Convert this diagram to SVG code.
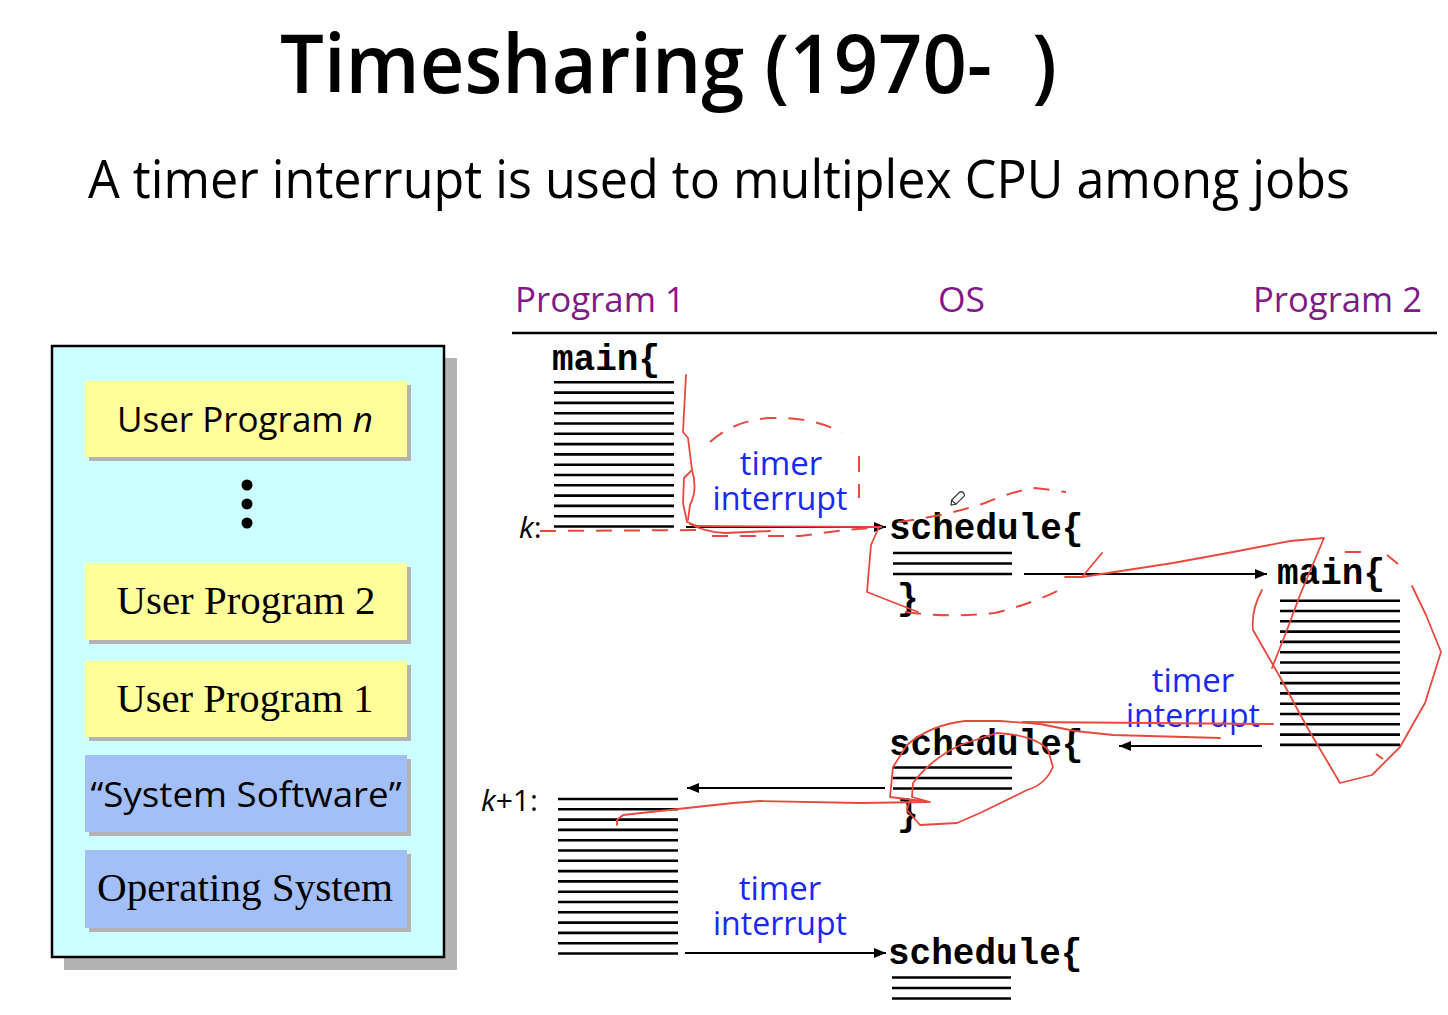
<svg xmlns="http://www.w3.org/2000/svg" width="1448" height="1015" viewBox="0 0 1448 1015">
  <defs>
    <marker id="arrowhead" viewBox="0 0 12 10" refX="12" refY="5" markerWidth="12" markerHeight="10" markerUnits="userSpaceOnUse" orient="auto">
      <path d="M0,0 L12,5 L0,10 z" fill="#000"/>
    </marker>
    <style>
      .title { font-family: "Open Sans", "Noto Sans", sans-serif; fill: #000; }
      .head { font-family: "Open Sans", "Noto Sans", sans-serif; font-size: 35px; fill: #7f1a86; }
      .note { font-family: "Open Sans", "Noto Sans", sans-serif; font-size: 33px; fill: #1a28f2; text-anchor: middle; }
      .code { font-family: "Liberation Mono", "DejaVu Sans Mono", monospace; font-size: 36px; font-weight: bold; fill: #000; }
      .lbl { font-family: "Open Sans", "Noto Sans", sans-serif; font-size: 30px; fill: #000; }
      .sans { font-family: "Open Sans", "Noto Sans", sans-serif; font-size: 34px; fill: #000; text-anchor: middle; }
      .serif { font-family: "Liberation Serif", "Times New Roman", serif; font-size: 41px; fill: #000; text-anchor: middle; }
      .codeline { stroke: #000; stroke-width: 2.6; }
      .conn { stroke: #000; stroke-width: 2; fill: none; }
      .ink { stroke: #e8493f; stroke-width: 1.8; fill: none; stroke-linejoin: round; stroke-linecap: round; }
      .inkdash { stroke: #e8493f; stroke-width: 2; fill: none; stroke-dasharray: 16 12; }
      .yellow { fill: #ffff9c; }
      .blue { fill: #a3bff8; }
      .shade { fill: #b3b3b3; }
    </style>
  </defs>

  <rect width="1448" height="1015" fill="#fff"/>

  <!-- headings -->
  <text class="title" x="280" y="93" font-size="81" font-weight="600" textLength="777" lengthAdjust="spacingAndGlyphs" xml:space="preserve">Timesharing (1970-  )</text>
  <text class="title" x="88" y="198" font-size="53" textLength="1262" lengthAdjust="spacingAndGlyphs">A timer interrupt is used to multiplex CPU among jobs</text>

  <!-- memory layout stack -->
  <g id="memory-stack">
    <rect x="64" y="358" width="393" height="612" class="shade"/>
    <rect x="52" y="346" width="392" height="611" fill="#ccffff" stroke="#000" stroke-width="2.5"/>
  </g>
  <g id="user-program-n">
    <rect x="89" y="385" width="322" height="76" class="shade"/>
    <rect x="85" y="381" width="322" height="76" class="yellow"/>
    <text class="sans" x="245" y="432" textLength="256" lengthAdjust="spacingAndGlyphs">User Program <tspan font-style="italic">n</tspan></text>
  </g>
  <g id="ellipsis-dots" fill="#000">
    <circle cx="247" cy="485" r="5.5"/>
    <circle cx="247" cy="504" r="5.5"/>
    <circle cx="247" cy="523" r="5.5"/>
  </g>
  <g id="user-program-2">
    <rect x="89" y="567" width="322" height="77" class="shade"/>
    <rect x="85" y="563" width="322" height="77" class="yellow"/>
    <text class="serif" x="246" y="614" textLength="259" lengthAdjust="spacingAndGlyphs">User Program 2</text>
  </g>
  <g id="user-program-1">
    <rect x="89" y="665" width="322" height="76" class="shade"/>
    <rect x="85" y="661" width="322" height="76" class="yellow"/>
    <text class="serif" x="245" y="712" textLength="257" lengthAdjust="spacingAndGlyphs">User Program 1</text>
  </g>
  <g id="system-software">
    <rect x="89" y="759" width="322" height="77" class="shade"/>
    <rect x="85" y="755" width="322" height="77" class="blue"/>
    <text class="sans" x="246" y="807" textLength="311" lengthAdjust="spacingAndGlyphs">“System Software”</text>
  </g>
  <g id="operating-system">
    <rect x="89" y="854" width="322" height="78" class="shade"/>
    <rect x="85" y="850" width="322" height="78" class="blue"/>
    <text class="serif" x="245" y="901" textLength="296" lengthAdjust="spacingAndGlyphs">Operating System</text>
  </g>

  <!-- timeline columns -->
  <g id="column-heads">
    <text class="head" x="515" y="312" textLength="170" lengthAdjust="spacingAndGlyphs">Program 1</text>
    <text class="head" x="938" y="312" textLength="47" lengthAdjust="spacingAndGlyphs">OS</text>
    <text class="head" x="1253" y="312" textLength="169" lengthAdjust="spacingAndGlyphs">Program 2</text>
    <line x1="512" y1="333" x2="1437" y2="333" stroke="#000" stroke-width="2.5"/>
  </g>

  <g id="program1-main">
    <text class="code" x="552" y="370">main{</text>
    <path class="codeline" d="M554,382.3H674M554,392.6H674M554,402.9H674M554,413.2H674M554,423.5H674M554,433.8H674M554,444.1H674M554,454.4H674M554,464.7H674M554,475H674M554,485.3H674M554,495.6H674M554,505.9H674M554,516.2H674M554,526.5H674"/>
    <text class="lbl" x="519" y="538"><tspan font-style="italic">k</tspan>:</text>
  </g>

  <g id="os-schedule-1">
    <text class="code" x="889" y="539">schedule{</text>
    <path class="codeline" d="M893,553H1012M893,563.5H1012M893,574H1012"/>
    <text class="code" x="897" y="609">}</text>
  </g>

  <g id="program2-main">
    <text class="code" x="1277" y="584">main{</text>
    <path class="codeline" d="M1280,600.7H1400M1280,611H1400M1280,621.3H1400M1280,631.6H1400M1280,641.9H1400M1280,652.2H1400M1280,662.5H1400M1280,672.8H1400M1280,683.1H1400M1280,693.4H1400M1280,703.7H1400M1280,714H1400M1280,724.3H1400M1280,734.6H1400M1280,744.9H1400"/>
  </g>

  <g id="os-schedule-2">
    <text class="code" x="889" y="755">schedule{</text>
    <path class="codeline" d="M893,767.5H1012M893,778H1012M893,788.5H1012"/>
    <text class="code" x="897" y="825">}</text>
  </g>

  <g id="program1-resume">
    <text class="lbl" x="481" y="811"><tspan font-style="italic">k</tspan>+1:</text>
    <path class="codeline" d="M558,799H678M558,809.3H678M558,819.6H678M558,829.9H678M558,840.2H678M558,850.5H678M558,860.8H678M558,871.1H678M558,881.4H678M558,891.7H678M558,902H678M558,912.3H678M558,922.6H678M558,932.9H678M558,943.2H678M558,953.5H678"/>
  </g>

  <g id="os-schedule-3">
    <text class="code" x="888" y="964">schedule{</text>
    <path class="codeline" d="M892,977.5H1011M892,988H1011M892,998.5H1011"/>
  </g>

  <!-- transfers of control -->
  <g id="connectors">
    <line class="conn" x1="686" y1="527" x2="886" y2="527" marker-end="url(#arrowhead)"/>
    <line class="conn" x1="1024" y1="574" x2="1267" y2="574" marker-end="url(#arrowhead)"/>
    <line class="conn" x1="1262" y1="746" x2="1119" y2="746" marker-end="url(#arrowhead)"/>
    <line class="conn" x1="885" y1="788" x2="687" y2="788" marker-end="url(#arrowhead)"/>
    <line class="conn" x1="685" y1="953" x2="886" y2="953" marker-end="url(#arrowhead)"/>
  </g>

  <g id="interrupt-labels">
    <text class="note" x="781" y="475">timer<tspan x="780" dy="35" textLength="135" lengthAdjust="spacingAndGlyphs">interrupt</tspan></text>
    <text class="note" x="1193" y="692">timer<tspan x="1193" dy="35" textLength="134" lengthAdjust="spacingAndGlyphs">interrupt</tspan></text>
    <text class="note" x="780" y="900">timer<tspan x="780" dy="35" textLength="134" lengthAdjust="spacingAndGlyphs">interrupt</tspan></text>
  </g>

  <!-- hand-drawn pen markings -->
  <g id="pen-markings">
    <!-- dashed loops -->
    <path class="inkdash" d="M540,531 L700,530"/>
    <path class="inkdash" d="M710,442 Q735,420 770,418 Q815,417 842,433"/>
    <path class="inkdash" d="M859,456 L859,498"/>
    <path class="inkdash" d="M712,536 L800,536 L845,530 L882,527"/>
    <path class="inkdash" d="M898,522 Q950,515 985,503 Q1010,492 1035,488 L1066,492"/>
    <path class="inkdash" d="M905,612 Q950,618 995,613 Q1035,603 1063,588"/>
    <path class="inkdash" d="M1345,552 L1366,552 M1387,555 L1398,564 M1376,754 L1383,759"/>

    <!-- strokes around program 1 -->
    <path class="ink" d="M686,375 L683,432 L688,438 L692,470 L684,478 L683,503 L687,522 L697,526 L880,527"/>
    <path class="ink" d="M692,470 Q698,490 690,505 L688,520"/>
    <path class="ink" d="M690,524 Q705,532 725,533 L770,531"/>

    <!-- strokes from schedule into program 2 -->
    <path class="ink" d="M879,527 L871,545 L867,592 L918,612"/>
    <path class="ink" d="M1065,577 L1082,577 L1102,553"/>
    <path class="ink" d="M1082,577 L1173,563 L1233,552 L1290,541 L1324,538 L1300,595 L1287,630 L1272,668"/>
    <path class="ink" d="M1262,590 Q1251,610 1253,630 L1280,677 L1307,727 L1340,783 L1372,775 L1400,747 L1425,703 L1441,652 L1426,615 L1412,586"/>

    <!-- strokes back through schedule to program 1 -->
    <path class="ink" d="M1273,724 L1150,723 L1023,722"/>
    <path class="ink" d="M1220,738 L1113,735 L1075,731 L1040,724 L1000,721 L965,721 Q930,725 907,745 L893,767 L890,797 L930,802 L912,797 L913,783 Q930,760 960,745 L997,733 Q1035,735 1048,750 L1053,767 Q1045,785 1027,790 L980,813 L957,823 L920,825 L907,810 L910,800"/>
    <path class="ink" d="M927,802 L860,803 L760,801 L733,803 L623,815 L617,820 L617,825"/>
  </g>

  <!-- pen cursor -->
  <g id="pen-cursor" transform="translate(951,505) rotate(-45)" fill="#fff" stroke="#333" stroke-width="1.2">
    <path d="M0,0 L4,-3 L16,-3 Q19,0 16,3 L4,3 Z"/>
    <line x1="4" y1="-3" x2="4" y2="3"/>
  </g>
</svg>
